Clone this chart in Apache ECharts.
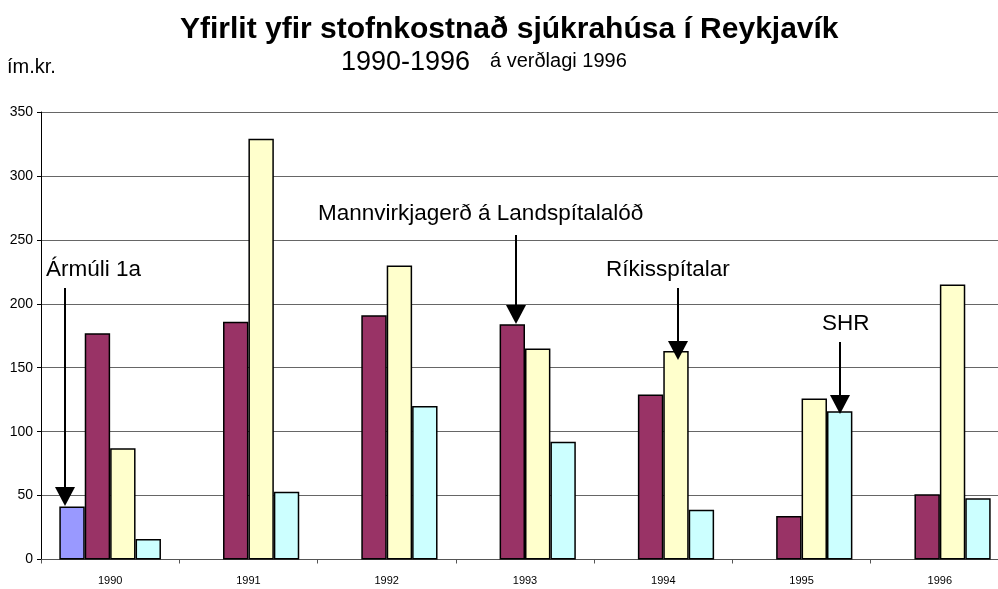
<!DOCTYPE html>
<html>
<head>
<meta charset="utf-8">
<script src="https://cdn.jsdelivr.net/npm/echarts@6/dist/echarts.min.js"></script>
<style>
  html, body { margin: 0; padding: 0; background: #fff; }
  #container { width: 998px; height: 589px; }
</style>
</head>
<body>
<div id="container"></div>
<script>
var years = ['1990', '1991', '1992', '1993', '1994', '1995', '1996']
var armuli = [41.5, null, null, null, null, null, null]
var landspitalalod = [177, 186, 191, 184, 129, 34, 51]
var rikisspitalar = [87, 329, 230, 165, 163, 126, 215]
var shr = [16, 53, 120, 92, 39, 116, 48]
var yTicks = [0, 50, 100, 150, 200, 250, 300, 350]

var font = 'Liberation Sans, Arial, sans-serif'
var dom = document.getElementById('container')
var myChart = echarts.init(dom)

function barSeries(name, data, color) {
  return {
    name: name,
    type: 'bar',
    data: data,
    barGap: '0%',
    barCategoryGap: '26.5%',
    itemStyle: {
      color: color,
      borderColor: '#000',
      borderWidth: 1.5
    },
    animation: false
  }
}

// arrow: vertical line with a filled triangle head
function arrow(x, y1, y2) {
  return [{
    type: 'line',
    shape: { x1: x, y1: y1, x2: x, y2: y2 - 16 },
    style: { stroke: '#000', lineWidth: 2 },
    z: 100
  }, {
    type: 'polygon',
    shape: { points: [[x - 10, y2 - 19], [x + 10, y2 - 19], [x, y2]] },
    style: { fill: '#000' },
    z: 100
  }]
}

function label(text, x, y, size, weight) {
  return {
    type: 'text',
    left: x,
    top: y,
    style: {
      text: text,
      font: (weight || 'normal') + ' ' + size + 'px ' + font,
      fill: '#000'
    },
    z: 100
  }
}

var graphics = [
  label('ím.kr.', 7, 57, 20),
  label('1990-1996', 341, 49, 27),
  label('á verðlagi 1996', 490, 51, 20),
  label('Ármúli 1a', 46, 258, 22.5),
  label('Mannvirkjagerð á Landspítalalóð', 318, 202, 22.5),
  label('Ríkisspítalar', 606, 258, 22.5),
  label('SHR', 822, 312, 22.5)
]
graphics = graphics
  .concat(arrow(65, 288, 506))
  .concat(arrow(516, 235, 324))
  .concat(arrow(678, 288, 360))
  .concat(arrow(840, 342, 414))

var option = {
  backgroundColor: '#fff',
  title: {
    text: 'Yfirlit yfir stofnkostnað sjúkrahúsa í Reykjavík',
    left: 175,
    top: 10,
    textStyle: {
      fontFamily: font,
      fontSize: 30,
      fontWeight: 'bold',
      color: '#000'
    }
  },
  grid: {
    left: 41,
    top: 112,
    width: 968,
    bottom: 29.5,
    containLabel: false,
    outerBoundsMode: 'none'
  },
  xAxis: {
    type: 'category',
    data: years,
    axisLine: { lineStyle: { color: '#555', width: 1 } },
    axisTick: { show: true, length: 4, lineStyle: { color: '#555' } },
    axisLabel: { fontFamily: font, fontSize: 11, color: '#000', margin: 16 }
  },
  yAxis: {
    type: 'value',
    min: yTicks[0],
    max: yTicks[yTicks.length - 1],
    interval: 50,
    axisLine: { show: true, lineStyle: { color: '#000', width: 1 } },
    axisTick: { show: true, length: 4, lineStyle: { color: '#000' } },
    axisLabel: { fontFamily: font, fontSize: 14, color: '#000', margin: 8 },
    splitLine: { lineStyle: { color: '#666', width: 1 } }
  },
  series: [
    barSeries('Ármúli 1a', armuli, '#9999ff'),
    barSeries('Mannvirkjagerð á Landspítalalóð', landspitalalod, '#993366'),
    barSeries('Ríkisspítalar', rikisspitalar, '#ffffcc'),
    barSeries('SHR', shr, '#ccffff')
  ],
  graphic: graphics
}

myChart.setOption(option)
</script>
</body>
</html>
